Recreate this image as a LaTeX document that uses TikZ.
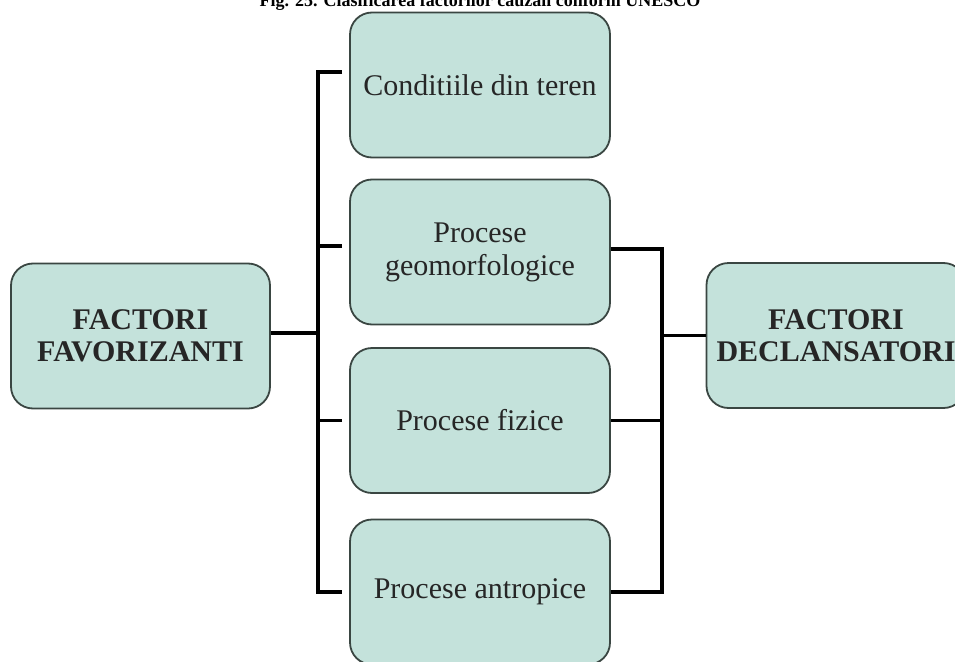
\documentclass[tikz,border=0pt]{standalone}
\usepackage{fontspec}
\setmainfont{Liberation Serif}
\usepackage{tikz}
\definecolor{boxfill}{RGB}{196,226,219}
\definecolor{boxline}{RGB}{58,70,66}
\begin{document}
\begin{tikzpicture}[x=1pt,y=-1pt]
\tikzstyle{box}=[draw=boxline,line width=1.8pt,fill=boxfill,rounded corners=22pt,minimum width=259pt,minimum height=145pt,align=center,text=black!85,font=\fontsize{30}{33}\selectfont]
\tikzstyle{bus}=[line width=3.2pt]
    \useasboundingbox (0,0) rectangle (955,661);
    \node[anchor=base,font=\bfseries\fontsize{18}{20}\selectfont](t) at (480,7){Fig. 25. Clasificarea factorilor cauzali conform UNESCO};
    \node[box,font=\bfseries\fontsize{30}{32}\selectfont](f1) at (140.5,336){FACTORI\\FAVORIZANTI};
    \node[box,minimum width=260pt](b1) at (480,85){Conditiile din teren};
    \node[box,minimum width=260pt](b2) at (480,252){Procese\\geomorfologice};
    \node[box,minimum width=260pt](b3) at (480,420.5){Procese fizice};
    \node[box,minimum width=260pt](b4) at (480,592){Procese antropice};
    \node[box,font=\bfseries\fontsize{30}{32}\selectfont](d1) at (836,335.5){FACTORI\\DECLANSATORI};
    \coordinate(L) at (318,0);
    \coordinate(R) at (662,0);
    % left bus
    \draw[bus]([shift={(-7,-13)}]b1.west) -| (L |- b4.west) -- ([xshift=-7]b4.west);
    \draw[bus]([shift={(-7,-6)}]b2.west) -- ++(-25,0);
    \draw[bus]([xshift=-7]b3.west) -- (L |- b3.west);
    \draw[bus]([yshift=3]f1.east) -- ++(48,0);
    % right bus
    \draw[bus]([yshift=3]b2.east) -| (R |- b4.east) -- (b4.east);
    \draw[bus](b3.east) -- (R |- b3.east);
    \draw[bus](d1.west) -- (R |- d1.west);
\end{tikzpicture}
\end{document}
